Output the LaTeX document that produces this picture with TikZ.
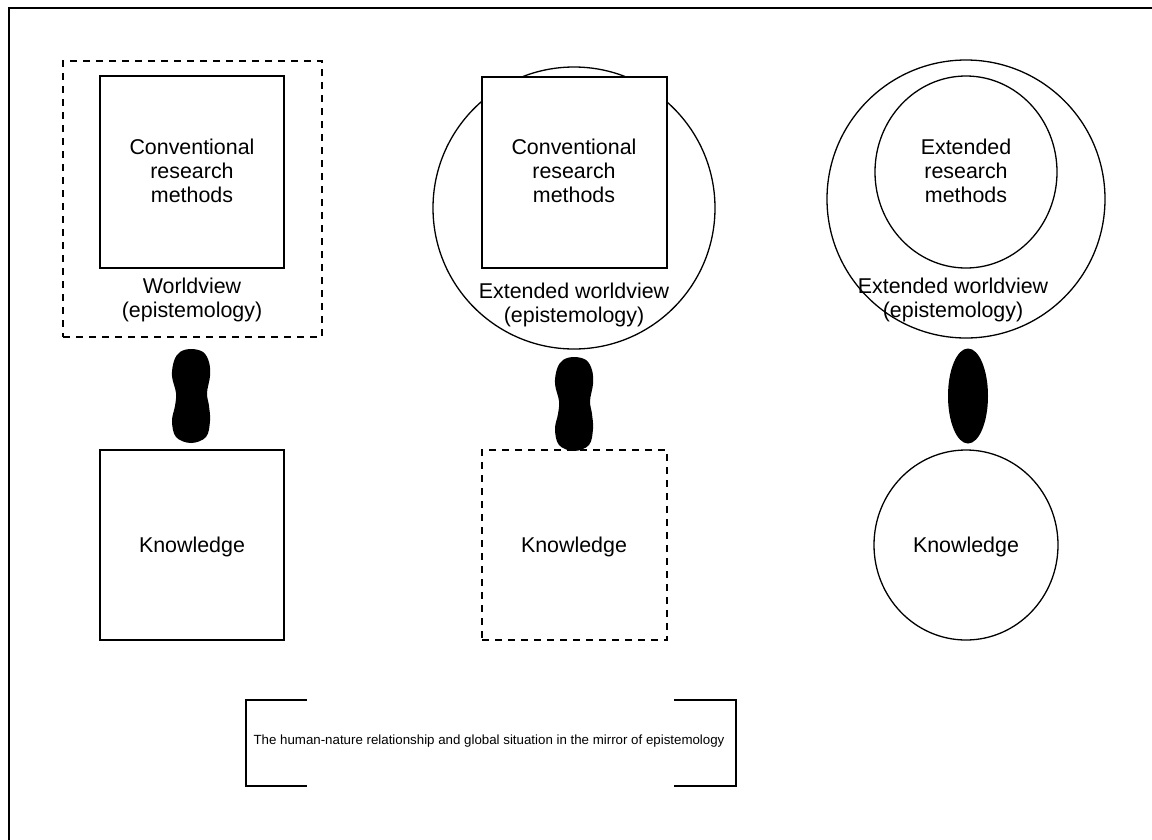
\documentclass[tikz,border=0pt]{standalone}
\usepackage{fontspec}
\setmainfont{Liberation Sans}
\usetikzlibrary{shapes.geometric}
\tikzset{
  ln/.style={line width=1.3pt},
  dsh/.style={ln, dash pattern=on 7pt off 6pt},
  boxshape/.style={draw, ln, rectangle, inner sep=0pt},
  ringshape/.style={draw, ln, circle, inner sep=0pt},
  ovalshape/.style={draw, ln, ellipse, inner sep=0pt},
  lbl/.style={align=center, font=\fontsize{21.4}{24}\selectfont, inner sep=0pt},
  blobpart/.style={fill=black, ellipse, inner sep=0pt},
  blobfill/.style={fill=black}
}
\begin{document}
\begin{tikzpicture}[x=1pt, y=-1pt]
\clip (0,0) rectangle (1152,839);
\fill[white] (0,0) rectangle (1152,839);
\draw[line width=2pt] (9,8) rectangle (1170,860);

% Panel 1
\node[boxshape, dsh, minimum width=259pt, minimum height=276pt] (wv1) at (192.5,199) {};
\node[boxshape, minimum width=184pt, minimum height=192pt] (m1) at (192,172) {};
\node[lbl] (m1t) at (192,171) {Conventional\\research\\methods};
\node[lbl] (wv1t) at (192,300) {Worldview\\(epistemology)};
\node[boxshape, minimum width=184pt, minimum height=190pt] (k1) at (192,545) {};
\node[lbl] (k1t) at (192,547) {Knowledge};
\fill[blobfill] plot[smooth cycle, tension=0.6] coordinates {
  (191,349) (203,352) (209,362) (210,376) (207,393) (209,406) (210,421) (206,437)
  (191,443) (176,437) (172,421) (175,406) (176,393) (172,376) (174,361) (180,352)};

% Panel 2
\node[ringshape, minimum size=282pt] (wv2) at (574,208) {};
\node[boxshape, fill=white, minimum width=185pt, minimum height=191pt] (m2) at (574.5,172.5) {};
\node[lbl] (m2t) at (574,171) {Conventional\\research\\methods};
\node[lbl] (wv2t) at (574,305) {Extended worldview\\(epistemology)};
\node[boxshape, dsh, minimum width=185pt, minimum height=190pt] (k2) at (574.5,545) {};
\node[lbl] (k2t) at (574,547) {Knowledge};
\begin{scope}[xshift=383pt, yshift=-8pt]
\fill[blobfill] plot[smooth cycle, tension=0.6] coordinates {
  (191,349) (203,352) (209,362) (210,376) (207,393) (209,406) (210,421) (206,437)
  (191,443) (176,437) (172,421) (175,406) (176,393) (172,376) (174,361) (180,352)};
\end{scope}

% Panel 3
\node[ringshape, minimum size=278pt] (wv3) at (966,199) {};
\node[ovalshape, minimum width=182pt, minimum height=192pt] (m3) at (966,172) {};
\node[lbl] (m3t) at (966,171) {Extended\\research\\methods};
\node[lbl] (wv3t) at (953,300) {Extended worldview\\(epistemology)};
\node[ovalshape, minimum width=184pt, minimum height=190pt] (k3) at (966,545) {};
\node[lbl] (k3t) at (966,547) {Knowledge};
\node[blobpart, minimum width=40pt, minimum height=95pt] (b3) at (968,396) {};

% Bottom bracket box
\coordinate (bl1) at (307,700);
\coordinate (bl2) at (246,700);
\coordinate (bl3) at (246,786);
\coordinate (bl4) at (307,786);
\coordinate (br1) at (674,700);
\coordinate (br2) at (736,700);
\coordinate (br3) at (736,786);
\coordinate (br4) at (674,786);
\draw[ln] (bl1) -- (bl2) -- (bl3) -- (bl4);
\draw[ln] (br1) -- (br2) -- (br3) -- (br4);
\node[inner sep=0pt, font=\fontsize{13.3}{16}\selectfont] (cap) at (489,741) {The human-nature relationship and global situation in the mirror of epistemology};
\end{tikzpicture}
\end{document}
